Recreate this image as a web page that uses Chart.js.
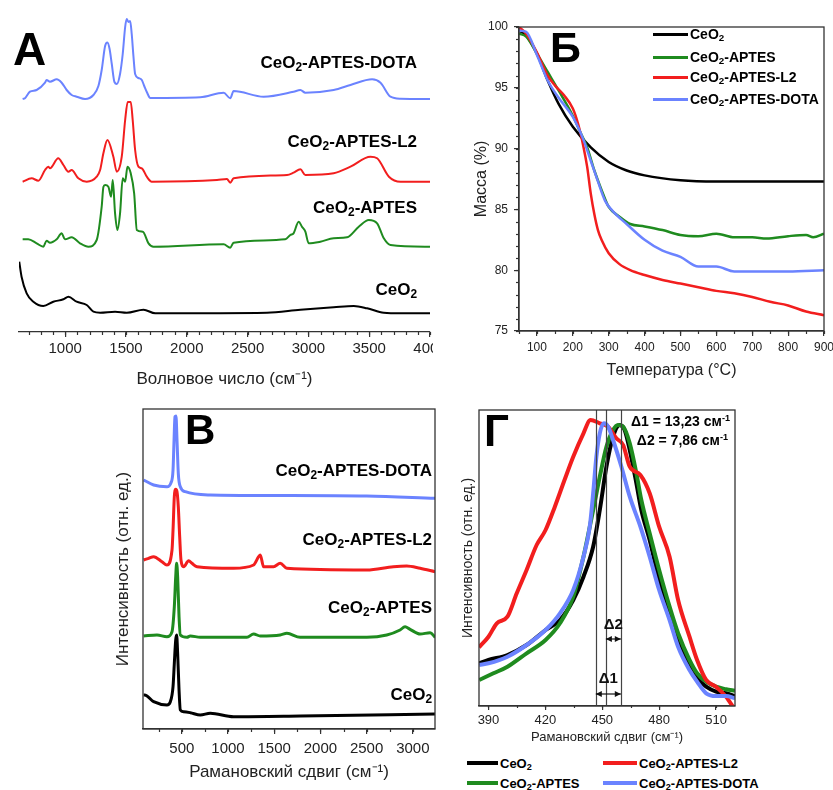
<!DOCTYPE html>
<html lang="ru">
<head>
<meta charset="utf-8">
<script src="https://cdn.jsdelivr.net/npm/chart.js@4.4.1/dist/chart.umd.min.js"></script>
<style>
  body { margin:0; width:833px; height:790px; position:relative; overflow:hidden; background:#fff;
         font-family:"Liberation Sans", Arial, sans-serif; color:#000; }
  .panel { position:absolute; overflow:hidden; }
  .txt { position:absolute; font-weight:bold; white-space:nowrap; line-height:1; }
  .txt sub, .leg sub { font-size:70%; vertical-align:-0.25em; line-height:0; }
  .txt sup { font-size:65%; vertical-align:0.55em; line-height:0; }
  .big { position:absolute; font-weight:bold; line-height:1; }
  .leg { position:absolute; display:flex; align-items:center; font-weight:bold; white-space:nowrap; height:20px; }
  .leg i { display:inline-block; margin-right:2px; }
</style>
</head>
<body>

<div class="panel" style="left:0;top:0;width:433px;height:390px"><canvas id="chartA" width="470" height="390"></canvas></div>
<div class="panel" style="left:440px;top:0;width:393px;height:390px"><canvas id="chartB" width="420" height="390"></canvas></div>
<div class="panel" style="left:100px;top:390px;width:340px;height:400px"><canvas id="chartV" width="340" height="400"></canvas></div>
<div class="panel" style="left:460px;top:400px;width:373px;height:350px"><canvas id="chartG" width="373" height="350"></canvas></div>

<!-- буквы панелей -->
<div class="big" style="left:13px;top:26px;font-size:46px">А</div>
<div class="big" style="left:550px;top:26px;font-size:43px">Б</div>
<div class="big" style="left:185px;top:409px;font-size:42px">В</div>
<div class="big" style="left:484px;top:409px;font-size:44px">Г</div>

<!-- подписи кривых, панель А -->
<div class="txt" style="right:416px;top:54px;font-size:17px">CeO<sub>2</sub>-APTES-DOTA</div>
<div class="txt" style="right:416px;top:133px;font-size:17px">CeO<sub>2</sub>-APTES-L2</div>
<div class="txt" style="right:416px;top:199px;font-size:17px">CeO<sub>2</sub>-APTES</div>
<div class="txt" style="right:416px;top:281px;font-size:17px">CeO<sub>2</sub></div>

<!-- легенда, панель Б -->
<div class="leg" style="left:653px;top:24px;font-size:14px"><i style="width:35px;height:3px;background:#000"></i><span>CeO<sub>2</sub></span></div>
<div class="leg" style="left:653px;top:47px;font-size:14px"><i style="width:35px;height:3px;background:#1f8b1f"></i><span>CeO<sub>2</sub>-APTES</span></div>
<div class="leg" style="left:653px;top:67px;font-size:14px"><i style="width:35px;height:3px;background:#f21e1e"></i><span>CeO<sub>2</sub>-APTES-L2</span></div>
<div class="leg" style="left:653px;top:89px;font-size:14px"><i style="width:35px;height:3px;background:#6b83ff"></i><span>CeO<sub>2</sub>-APTES-DOTA</span></div>

<!-- подписи кривых, панель В -->
<div class="txt" style="right:401px;top:462px;font-size:17px">CeO<sub>2</sub>-APTES-DOTA</div>
<div class="txt" style="right:401px;top:531px;font-size:17px">CeO<sub>2</sub>-APTES-L2</div>
<div class="txt" style="right:401px;top:599px;font-size:17px">CeO<sub>2</sub>-APTES</div>
<div class="txt" style="right:401px;top:686px;font-size:17px">CeO<sub>2</sub></div>

<!-- панель Г: значения сдвигов и общая легенда -->
<div class="txt" style="right:103px;top:414px;font-size:14px">Δ1 = 13,23 см<sup>-1</sup></div>
<div class="txt" style="right:105px;top:433px;font-size:14px">Δ2 = 7,86 см<sup>-1</sup></div>
<div class="leg" style="left:467px;top:753px;font-size:13px"><i style="width:31px;height:4px;background:#000"></i><span>CeO<sub>2</sub></span></div>
<div class="leg" style="left:603px;top:753px;font-size:13px"><i style="width:34px;height:4px;background:#f21e1e"></i><span>CeO<sub>2</sub>-APTES-L2</span></div>
<div class="leg" style="left:467px;top:773px;font-size:13px"><i style="width:31px;height:4px;background:#1f8b1f"></i><span>CeO<sub>2</sub>-APTES</span></div>
<div class="leg" style="left:603px;top:773px;font-size:13px"><i style="width:34px;height:4px;background:#6b83ff"></i><span>CeO<sub>2</sub>-APTES-DOTA</span></div>

<script>
// ---- А: ИК-спектры (волновое число, см-1 / интенсивность со сдвигом) ----
const irTicks = [1000, 1500, 2000, 2500, 3000, 3500, 4000];
const irCeO2 = [[622,70.3],[641,55.3],[683,38.7],[738,30.3],[820,26],[902,30.3],[985,32.7],[1026,35.3],[1094,30.3],[1177,27],[1232,20.3],[1287,19.3],[1410,20.3],[1506,19.3],[1644,22.3],[1740,18.7],[2659,19.3],[2934,22.3],[3208,24.7],[3373,26],[3483,23.7],[3620,19.3],[3758,18.7],[4000,18.7]];
const irAptes = [[650,92.7],[696,92.7],[765,88.7],[820,85.3],[847,91.3],[875,89.3],[930,92.7],[971,98.7],[998,92.7],[1053,94.7],[1122,88.7],[1191,85.3],[1259,92],[1300,125.3],[1314,145],[1328,147],[1355,145.3],[1377,135.3],[1391,152],[1410,118.7],[1429,102],[1451,118.7],[1473,153.7],[1493,150.3],[1512,165.3],[1539,158.7],[1567,138.7],[1589,102],[1638,100.3],[1685,88.7],[1726,85.3],[2303,87.7],[2357,84.3],[2385,89.3],[2810,92.7],[2851,97],[2878,98.7],[2920,110.3],[2947,105.3],[2975,100.3],[3002,88.7],[3098,90.3],[3208,93.7],[3318,94.7],[3414,105.3],[3497,112],[3565,108.7],[3620,93.7],[3675,87],[4000,85.3]];
const irL2 = [[650,150.3],[724,153.7],[779,151.3],[834,162],[861,165.3],[875,163.7],[943,173.7],[985,167],[1026,160.3],[1053,162],[1108,153.7],[1177,150.3],[1259,155.3],[1287,162],[1314,178.7],[1347,192],[1396,175.3],[1424,160.3],[1465,175.3],[1493,212],[1514,230],[1539,230],[1555,212],[1575,182],[1602,165.3],[1630,163.7],[1671,155.3],[1712,150.3],[2248,152],[2330,153],[2357,149.3],[2385,153.7],[2824,157],[2878,159.3],[2934,162.7],[2975,157],[3208,158.7],[3346,165.3],[3510,175.3],[3565,173.7],[3662,155.3],[3758,150.3],[4000,150.3]];
const irDota = [[650,233],[669,233.7],[710,240.3],[765,242],[834,249.3],[847,252],[875,250.3],[930,252.7],[971,249.3],[1012,242],[1053,237],[1094,235.3],[1163,233],[1232,237],[1273,246],[1300,262],[1328,286],[1347,289.5],[1365,283],[1383,268],[1405,250],[1425,248],[1451,258],[1473,278],[1493,305],[1506,313],[1520,310],[1534,311],[1547,298],[1561,276],[1575,258],[1602,254],[1630,252],[1650,246],[1671,240],[1700,234],[2110,234.7],[2303,239.3],[2357,233.7],[2385,241],[2632,235.3],[2878,240.3],[2934,242],[2975,239.3],[3208,242],[3346,247],[3524,252.7],[3593,249.3],[3675,235.3],[3758,233.3],[4000,233]];

// ---- Б: ТГА (температура, °C / масса, %) ----
const tgaXTicks = [100, 200, 300, 400, 500, 600, 700, 800, 900];
const tgaYTicks = [75, 80, 85, 90, 95, 100];
const tgaCeO2 = [[50,99.7],[70,99.3],[100,97.8],[130,95.6],[160,93.7],[200,91.8],[250,90.1],[300,88.9],[350,88.2],[400,87.8],[500,87.4],[600,87.3],[700,87.3],[800,87.3],[900,87.3]];
const tgaAptes = [[50,99.45],[70,99.2],[100,97.8],[130,96.3],[160,94.8],[200,92.7],[220,91.4],[240,90.1],[260,88.2],[280,86.6],[300,85.2],[330,84.4],[360,83.8],[400,83.6],[450,83.3],[500,82.9],[550,82.8],[600,83.0],[650,82.7],[700,82.7],[740,82.6],[800,82.8],[850,82.9],[870,82.7],[900,83.0]];
const tgaL2 = [[50,100],[70,99.45],[100,97.9],[130,96.0],[150,95.2],[175,94.4],[200,93.3],[215,92.0],[230,90.1],[240,88.5],[250,86.3],[260,84.6],[270,83.3],[280,82.5],[300,81.4],[330,80.5],[360,80.0],[400,79.6],[450,79.2],[500,78.9],[550,78.6],[600,78.3],[650,78.1],[700,77.8],[750,77.4],[800,77.1],[850,76.6],[900,76.3]];
const tgaDota = [[50,99.7],[70,99.6],[100,97.7],[130,95.6],[160,94.2],[200,92.6],[230,90.7],[250,89.0],[270,87.3],[290,85.7],[310,84.9],[350,83.8],[400,82.5],[450,81.6],[500,81.1],[550,80.3],[600,80.3],[650,79.9],[700,79.9],[800,79.9],[900,80.0]];

// ---- В: КР-спектры (рамановский сдвиг, см-1 / интенсивность со сдвигом) ----
const ramanTicks = [500, 1000, 1500, 2000, 2500, 3000];
const ramanCeO2 = [[87,35],[98,35],[195,28.3],[339,25],[376,28.3],[405,43.3],[419,66.7],[434,90],[444,95],[455,76.7],[470,40],[484,20],[520,18.3],[592,17.3],[700,15],[808,16.7],[1060,13.3],[1781,14],[3241,16]];
const ramanAptes = [[87,94],[231,95],[339,93.3],[394,98.3],[419,123.3],[434,153.3],[444,166.7],[455,153.3],[470,113.3],[484,95],[556,92.7],[592,94],[700,92.7],[1205,92.7],[1277,96],[1349,94],[1565,95],[1637,96.7],[1781,92.7],[2502,92.7],[2718,95],[2862,100],[2916,103.3],[2970,100.7],[3079,96],[3187,97.3],[3241,92.7]];
const ramanL2 = [[87,170],[141,171.7],[195,173.3],[285,168.3],[339,165],[394,180],[405,200],[419,233.3],[434,240.7],[448,238.3],[462,223.3],[477,193.3],[491,170],[520,163.3],[574,169.3],[610,166.7],[664,163.3],[1060,161.7],[1277,165],[1331,173.3],[1349,175],[1385,163.3],[1493,163.3],[1565,166.7],[1637,161.7],[2502,160],[2790,163.3],[2934,164],[3079,161.7],[3241,158.3]];
const ramanDota = [[87,250],[195,245],[339,243.3],[383,247.3],[405,260],[416,290],[426,313.3],[437,314],[448,290],[462,256.7],[484,243.3],[538,238.3],[808,235],[1500,234.5],[2500,234],[3241,231.7]];

// ---- Г: увеличенная область пика F2g ----
const peakTicks = [390, 420, 450, 480, 510];
const peakCeO2 = [[385.1,42.7],[390,46],[400,51],[410.1,61],[420.1,76],[427.7,86],[434.7,106],[440.1,129.3],[445.2,159.3],[448.7,196],[452.2,239.3],[455.7,269.3],[459.2,281],[461.8,276],[464.5,256],[468,222.7],[470.6,196],[475,166],[480,126],[485.5,92.7],[490,66],[496,39.3],[500,27.7],[504.8,19.3],[510,14.3],[515.3,12.7],[520,10]];
const peakAptes = [[385.1,26],[392.6,32.7],[400,39.3],[410.1,52.7],[420.1,66],[427.7,82.7],[434.7,109.3],[440.1,149.3],[445.2,196],[448.7,229.3],[452.2,259.3],[455.7,276],[458.3,281],[461,279.3],[464.5,262.7],[468,232.7],[470.6,206],[475,172.7],[480,136],[485.5,99.3],[490,72.7],[496,46],[500,32.7],[504.8,24.3],[510,19.3],[515.3,16.7],[520,15.3]];
const peakL2 = [[385,58.7],[390,69.3],[394.4,82.7],[400,89.3],[404.9,112.7],[410.1,136],[415.4,161],[420.1,176],[425,199.3],[430.1,226],[434.7,249.3],[440.1,272.7],[443.8,286],[448.7,282.7],[453.1,279.3],[457.4,267.7],[461,261],[464.5,239.3],[470.1,231],[475,212.7],[480,179.3],[485.5,149.3],[490,106],[496,69.3],[500,46],[504.8,26],[510,19.3],[515.3,9.3],[520,-4]];
const peakDota = [[385.1,41],[390,42.7],[400,49.3],[410.1,61],[420.1,76],[427.7,92.7],[434.7,116],[440.1,149.3],[443.4,179.3],[445.2,212.7],[446.9,249.3],[448.7,272.7],[450.8,282.7],[453.1,279.3],[455.7,266],[460.1,239.3],[464.5,209.3],[470.1,179.3],[475,149.3],[480,116],[485.5,86],[490,59.3],[496,36],[500,24.3],[504.8,12.7],[510,10],[515.3,10],[520,7.7]];
const shiftLines = [446.6, 451.9, 459.8];
const shiftArrows = [
  { label: 'Δ2', from: 451.9, to: 459.8, y: 67, labelY: 81 },
  { label: 'Δ1', from: 446.6, to: 459.8, y: 12, labelY: 27 }
];

const C = { ceo2: '#000000', aptes: '#1f8b1f', l2: '#f21e1e', dota: '#6b83ff' };

Chart.defaults.font.family = '"Liberation Sans", Arial, sans-serif';
Chart.defaults.color = '#222';

// короткие промежуточные засечки
const minorTicks = {
  id: 'minorTicks',
  afterDraw(chart, args, opts) {
    const ctx = chart.ctx;
    ctx.save();
    ctx.strokeStyle = '#333';
    ctx.lineWidth = 1.2;
    ['x', 'y'].forEach(id => {
      const o = opts[id];
      if (!o) return;
      const s = chart.scales[id];
      for (let v = Math.ceil(s.min / o.step) * o.step; v <= s.max + 1e-6; v += o.step) {
        const p = Math.round(s.getPixelForValue(v)) + 0.5;
        ctx.beginPath();
        if (id === 'x') { ctx.moveTo(p, s.top); ctx.lineTo(p, s.top + o.len); }
        else { ctx.moveTo(s.right, p); ctx.lineTo(s.right - o.len, p); }
        ctx.stroke();
      }
    });
    ctx.restore();
  }
};

// рамка вокруг области графика
const frame = {
  id: 'frame',
  afterDraw(chart) {
    const { ctx, chartArea: a } = chart;
    ctx.save();
    ctx.strokeStyle = '#333';
    ctx.lineWidth = 1.3;
    ctx.strokeRect(a.left, a.top, a.right - a.left, a.bottom - a.top);
    ctx.restore();
  }
};

function arrowHead(ctx, x, y, dir) {
  ctx.beginPath();
  ctx.moveTo(x, y);
  ctx.lineTo(x - dir * 6, y - 3);
  ctx.lineTo(x - dir * 6, y + 3);
  ctx.closePath();
  ctx.fill();
}

// вертикальные линии и стрелки Δ1/Δ2
const shiftMarks = {
  id: 'shiftMarks',
  afterDatasetsDraw(chart) {
    const { ctx, chartArea: a, scales: { x, y } } = chart;
    ctx.save();
    ctx.strokeStyle = '#444';
    ctx.fillStyle = '#111';
    ctx.lineWidth = 1.2;
    shiftLines.forEach(v => {
      const p = Math.round(x.getPixelForValue(v)) + 0.5;
      ctx.beginPath(); ctx.moveTo(p, a.top); ctx.lineTo(p, a.bottom); ctx.stroke();
    });
    ctx.font = 'bold 15px "Liberation Sans", Arial, sans-serif';
    ctx.textAlign = 'center';
    ctx.textBaseline = 'middle';
    shiftArrows.forEach(ar => {
      const x1 = x.getPixelForValue(ar.from), x2 = x.getPixelForValue(ar.to);
      const py = y.getPixelForValue(ar.y);
      ctx.strokeStyle = '#111';
      ctx.beginPath(); ctx.moveTo(x1, py); ctx.lineTo(x2, py); ctx.stroke();
      arrowHead(ctx, x1, py, -1);
      arrowHead(ctx, x2, py, 1);
      ctx.fillText(ar.label, x.getPixelForValue((ar.from + ar.to) / 2), y.getPixelForValue(ar.labelY));
    });
    ctx.restore();
  }
};

function line(points, color, width) {
  return {
    data: points.map(p => ({ x: p[0], y: p[1] })),
    borderColor: color,
    borderWidth: width,
    pointRadius: 0,
    cubicInterpolationMode: 'monotone',
    fill: false
  };
}

function bottomAxis(min, max, ticks, o) {
  return {
    type: 'linear', min, max,
    afterBuildTicks: s => { s.ticks = ticks.map(v => ({ value: v })); },
    afterFit: s => { s.height = o.height; },
    ticks: { font: { size: o.tickSize }, color: '#222', padding: o.tickPad, maxRotation: 0, autoSkip: false, callback: v => String(v) },
    grid: { drawOnChartArea: false, tickLength: o.tickLen || 5, color: '#333', lineWidth: 1.2 },
    border: { color: '#333', width: 1.3 },
    title: { display: true, text: o.title, font: { size: o.titleSize }, color: '#222', padding: { top: 0, bottom: o.titlePad } }
  };
}

function plainY(min, max, width, title, size, pad) {
  return {
    type: 'linear', min, max,
    afterFit: s => { s.width = width; },
    ticks: { display: false },
    grid: { display: false },
    border: { display: false },
    title: { display: true, text: title, font: { size }, color: '#222', padding: { top: pad, bottom: 0 } }
  };
}

const common = { responsive: false, animation: false, devicePixelRatio: 1, events: [] };
const noLegend = { legend: { display: false }, tooltip: { enabled: false } };

// А
new Chart(document.getElementById('chartA'), {
  type: 'line',
  data: { datasets: [line(irDota, C.dota, 2), line(irL2, C.l2, 2), line(irAptes, C.aptes, 2), line(irCeO2, C.ceo2, 2)] },
  options: {
    ...common,
    layout: { padding: { left: 19, right: 40, top: 10, bottom: 0 } },
    scales: {
      x: bottomAxis(620, 4000, irTicks, { height: 58, tickSize: 15, tickPad: 3, title: 'Волновое число (см⁻¹)', titleSize: 17, titlePad: 0 }),
      y: { display: false, min: 0, max: 322 }
    },
    plugins: { ...noLegend, minorTicks: { x: { step: 100, len: 3 } } }
  },
  plugins: [minorTicks]
});

// Б
new Chart(document.getElementById('chartB'), {
  type: 'line',
  data: { datasets: [line(tgaCeO2, C.ceo2, 2.5), line(tgaAptes, C.aptes, 2.5), line(tgaL2, C.l2, 2.5), line(tgaDota, C.dota, 2.5)].reverse() },
  options: {
    ...common,
    layout: { padding: { left: 0, right: 36, top: 27, bottom: 0 } },
    scales: {
      x: bottomAxis(50, 900, tgaXTicks, { height: 59, tickSize: 12, tickPad: 4, title: 'Температура (°C)', titleSize: 16, titlePad: 10 }),
      y: {
        type: 'linear', min: 75, max: 100,
        afterBuildTicks: s => { s.ticks = tgaYTicks.map(v => ({ value: v })); },
        afterFit: s => { s.width = 79; },
        ticks: { font: { size: 12 }, color: '#222', padding: 6, callback: v => String(v) },
        grid: { drawOnChartArea: false, tickLength: 5, color: '#333', lineWidth: 1.2 },
        border: { color: '#333', width: 1.3 },
        title: { display: true, text: 'Масса (%)', font: { size: 16 }, color: '#222', padding: { top: 32, bottom: 0 } }
      }
    },
    plugins: { ...noLegend, minorTicks: { x: { step: 50, len: 3 }, y: { step: 1, len: 3 } } }
  },
  plugins: [minorTicks, frame]
});

// В
new Chart(document.getElementById('chartV'), {
  type: 'line',
  data: { datasets: [line(ramanDota, C.dota, 3), line(ramanL2, C.l2, 3), line(ramanAptes, C.aptes, 3), line(ramanCeO2, C.ceo2, 3)] },
  options: {
    ...common,
    layout: { padding: { left: 0, right: 5, top: 19, bottom: 0 } },
    scales: {
      x: bottomAxis(80, 3240, ramanTicks, { height: 61, tickSize: 15, tickPad: 6, title: 'Рамановский сдвиг (см⁻¹)', titleSize: 17, titlePad: 7 }),
      y: plainY(1, 321, 43, 'Интенсивность (отн. ед.)', 17, 13)
    },
    plugins: { ...noLegend, minorTicks: { x: { step: 250, len: 3 } } }
  },
  plugins: [minorTicks, frame]
});

// Г
new Chart(document.getElementById('chartG'), {
  type: 'line',
  data: { datasets: [line(peakDota, C.dota, 4), line(peakL2, C.l2, 4), line(peakAptes, C.aptes, 4), line(peakCeO2, C.ceo2, 4)] },
  options: {
    ...common,
    layout: { padding: { left: 0, right: 98, top: 10, bottom: 0 } },
    scales: {
      x: bottomAxis(385, 520, peakTicks, { height: 44, tickSize: 13, tickPad: 3, tickLen: 4, title: 'Рамановский сдвиг (см⁻¹)', titleSize: 13, titlePad: 5 }),
      y: plainY(0, 296, 19, 'Интенсивность (отн. ед.)', 14, 0)
    },
    plugins: { ...noLegend, minorTicks: { x: { step: 15, len: 2 } } }
  },
  plugins: [minorTicks, frame, shiftMarks]
});
</script>
</body>
</html>
